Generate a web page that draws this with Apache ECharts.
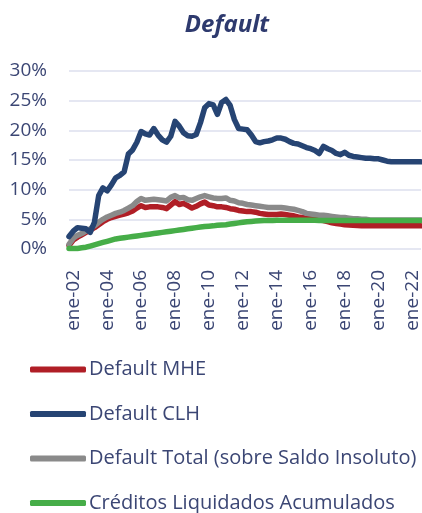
<!DOCTYPE html>
<html>
<head>
<meta charset="utf-8">
<script src="https://cdn.jsdelivr.net/npm/echarts@6/dist/echarts.min.js"></script>
<style>
  html, body { margin: 0; padding: 0; background: #fff; }
  #main { width: 422px; height: 513px; }
</style>
</head>
<body>
<div id="main"></div>
<script>
// trimestral, de oct-01 a jul-22
const meses = ['ene', 'abr', 'jul', 'oct']
const categorias = ['oct-01']
for (let y = 2; y <= 22; y++) {
  const yy = String(y).padStart(2, '0')
  meses.forEach(m => {
    if (y === 22 && m === 'oct') return
    categorias.push(m + '-' + yy)
  })
}

const yTicks = [0, 5, 10, 15, 20, 25, 30]

const defaultMHE = [
  0.6, 1.5, 2.0, 2.4, 2.8, 3.2, 3.6, 4.1, 4.6, 5.0,
  5.3, 5.5, 5.7, 5.9, 6.1, 6.4, 6.9, 7.3, 7.0, 7.1,
  7.1, 7.1, 7.0, 6.8, 7.4, 8.0, 7.5, 7.7, 7.3, 6.9,
  7.2, 7.6, 7.9, 7.4, 7.3, 7.1, 7.1, 7.0, 6.8, 6.7,
  6.5, 6.4, 6.3, 6.3, 6.2, 6.0, 5.9, 5.8, 5.8, 5.8,
  5.9, 5.8, 5.7, 5.6, 5.4, 5.3, 5.2, 5.1, 5.0, 4.9,
  4.8, 4.6, 4.4, 4.3, 4.2, 4.1, 4.05, 4.0, 3.95, 3.9,
  3.9, 3.9, 3.9, 3.9, 3.9, 3.9, 3.9, 3.9, 3.9, 3.9,
  3.9, 3.9, 3.9, 3.9
]

const defaultCLH = [
  2.1, 3.0, 3.6, 3.5, 3.4, 2.8, 4.5, 9.0, 10.3, 9.8,
  10.8, 12.0, 12.4, 13.0, 16.0, 16.7, 18.0, 19.8, 19.4, 19.2,
  20.3, 19.2, 18.4, 18.0, 19.0, 21.5, 20.7, 19.6, 19.1, 19.0,
  19.3, 21.3, 23.8, 24.5, 24.3, 22.7, 24.7, 25.2, 24.2, 21.8,
  20.3, 20.2, 20.1, 19.2, 18.1, 17.9, 18.1, 18.2, 18.4, 18.7,
  18.7, 18.5, 18.1, 17.8, 17.7, 17.4, 17.1, 16.9, 16.6, 16.1,
  17.3, 16.9, 16.6, 16.1, 15.9, 16.3, 15.8, 15.6, 15.5, 15.4,
  15.3, 15.3, 15.2, 15.2, 15.0, 14.8, 14.7, 14.7, 14.7, 14.7,
  14.7, 14.7, 14.7, 14.7
]

const defaultTotal = [
  0.8, 1.8, 2.3, 2.6, 3.0, 3.4, 3.9, 4.5, 5.0, 5.4,
  5.7, 6.0, 6.2, 6.5, 6.9, 7.3, 8.0, 8.5, 8.2, 8.3,
  8.4, 8.3, 8.2, 8.1, 8.7, 9.0, 8.6, 8.7, 8.3, 8.2,
  8.5, 8.8, 9.0, 8.8, 8.6, 8.5, 8.5, 8.6, 8.2, 8.1,
  7.8, 7.7, 7.5, 7.4, 7.3, 7.2, 7.1, 7.0, 7.0, 7.0,
  7.0, 6.9, 6.8, 6.7, 6.5, 6.3, 6.0, 5.9, 5.8, 5.7,
  5.7, 5.6, 5.5, 5.4, 5.3, 5.3, 5.2, 5.1, 5.1, 5.0,
  5.0, 4.9, 4.9, 4.9, 4.9, 4.9, 4.9, 4.9, 4.9, 4.9,
  4.9, 4.9, 4.9, 4.9
]

const creditosLiquidados = [
  0.1, 0.1, 0.1, 0.2, 0.3, 0.5, 0.7, 0.9, 1.1, 1.3,
  1.5, 1.7, 1.8, 1.9, 2.0, 2.1, 2.2, 2.3, 2.4, 2.5,
  2.6, 2.7, 2.8, 2.9, 3.0, 3.1, 3.2, 3.3, 3.4, 3.5,
  3.6, 3.7, 3.8, 3.85, 3.9, 4.0, 4.05, 4.1, 4.2, 4.3,
  4.4, 4.5, 4.6, 4.65, 4.7, 4.75, 4.8, 4.8, 4.8, 4.85,
  4.85, 4.85, 4.85, 4.85, 4.85, 4.85, 4.85, 4.85, 4.85, 4.8,
  4.8, 4.8, 4.8, 4.8, 4.8, 4.8, 4.8, 4.8, 4.8, 4.8,
  4.8, 4.8, 4.8, 4.8, 4.8, 4.8, 4.8, 4.8, 4.8, 4.8,
  4.8, 4.8, 4.8, 4.8
]

const textColor = '#3b4674'
const font = '"Open Sans", "Noto Sans", sans-serif'

function makeSeries(name, data, color, z) {
  return {
    name: name,
    type: 'line',
    data: data,
    symbol: 'none',
    z: z,
    lineStyle: { color: color, width: 5.5, cap: 'round', join: 'round' },
    itemStyle: { color: color }
  }
}

const chart = echarts.init(document.getElementById('main'))

chart.setOption({
  animation: false,
  textStyle: { fontFamily: font },
  title: {
    text: 'Default',
    left: 222,
    top: 8,
    textAlign: 'center',
    textStyle: {
      color: '#2e3a6e',
      fontSize: 24,
      fontWeight: 'bold',
      fontStyle: 'italic',
      fontFamily: font
    }
  },
  grid: {
    left: 69,
    right: 1,
    top: 71,
    bottom: 264,
    containLabel: false
  },
  xAxis: {
    type: 'category',
    data: categorias,
    boundaryGap: false,
    axisLine: { show: false },
    axisTick: { show: false },
    axisLabel: {
      rotate: 90,
      margin: 21,
      color: textColor,
      fontSize: 19,
      fontFamily: font,
      interval: (idx, value) => value.startsWith('ene-') && parseInt(value.slice(4), 10) % 2 === 0
    }
  },
  yAxis: {
    type: 'value',
    min: yTicks[0],
    max: yTicks[yTicks.length - 1],
    interval: 5,
    axisLine: { show: false },
    axisTick: { show: false },
    axisLabel: {
      formatter: '{value}%',
      margin: 22,
      color: textColor,
      fontSize: 19,
      fontFamily: font
    },
    splitLine: {
      lineStyle: { color: '#dcdfee', width: 1.5 }
    }
  },
  legend: {
    orient: 'vertical',
    left: 30,
    top: 359,
    height: 220,
    padding: 0,
    itemWidth: 56,
    itemHeight: 6,
    itemGap: 23.5,
    icon: 'roundRect',
    textStyle: {
      color: textColor,
      fontSize: 20,
      lineHeight: 21,
      padding: [0, 0, 0, -2],
      fontFamily: font
    },
    data: ['Default MHE', 'Default CLH', 'Default Total (sobre Saldo Insoluto)', 'Créditos Liquidados Acumulados']
  },
  series: [
    makeSeries('Default MHE', defaultMHE, '#b01e26', 2),
    makeSeries('Default CLH', defaultCLH, '#264473', 4),
    makeSeries('Default Total (sobre Saldo Insoluto)', defaultTotal, '#8a8a8a', 3),
    makeSeries('Créditos Liquidados Acumulados', creditosLiquidados, '#46ad48', 5)
  ]
})
</script>
</body>
</html>
